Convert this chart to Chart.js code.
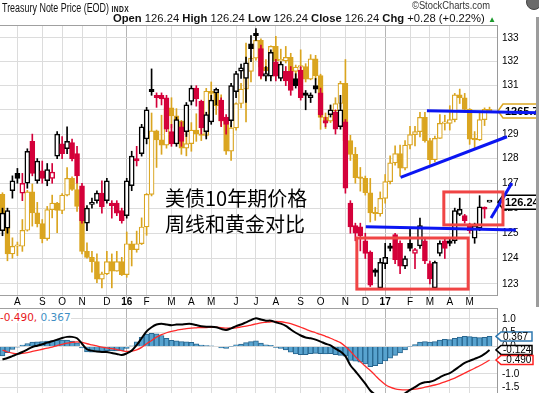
<!DOCTYPE html>
<html>
<head>
<meta charset="utf-8">
<title>Treasury Note Price vs Gold</title>
<script src="https://cdn.jsdelivr.net/npm/chart.js@4.4.1/dist/chart.umd.min.js"></script>
<style>
  html, body { margin: 0; padding: 0; background: #fff; }
  body { position: relative; width: 539px; height: 393px; overflow: hidden; font-family: Arial, "Liberation Sans", sans-serif; }
  canvas { position: absolute; left: 0; }
  #mainChart { top: 0; }
  #macdChart { top: 308px; }
  .txt { position: absolute; white-space: nowrap; transform-origin: 0 0; color: #111; }
  #title { left: 2px; top: 1px; font-size: 12px; line-height: 14px; }
  #title small { font-size: 9px; font-weight: bold; letter-spacing: 0.5px; }
  #credit { left: 412px; top: 0; font-size: 10px; line-height: 12px; color: #333; }
  #quote { left: 113px; top: 12px; font-size: 11px; line-height: 13px; }
  #quote .up { color: #1c9a2c; font-size: 8px; }
  #note { left: 165px; top: 185px; font-family: "Noto Sans CJK SC", sans-serif; font-size: 20px; line-height: 26px; color: #000; }
  #macdLegend { left: 0; top: 311px; font-family: "DejaVu Sans", sans-serif; font-size: 10.5px; line-height: 12px; background: #fff; }
  #macdLegend .sig { color: #e8181c; }
  #macdLegend .hist { color: #3f8fc4; }
  #rail { position: absolute; left: 536px; top: 17px; width: 3px; height: 290px; background: #9c9c9c; }
  #knob { position: absolute; left: 526px; top: -6px; width: 14px; height: 14px; border-radius: 50%; background: #6a6a6a; border: 1px solid #444; }
</style>
</head>
<body>
<canvas id="mainChart" width="539" height="308"></canvas>
<canvas id="macdChart" width="539" height="85"></canvas>
<div class="txt" id="title">Treasury Note Price (EOD) <small>INDX</small></div>
<div class="txt" id="credit">&copy;StockCharts.com</div>
<div class="txt" id="quote"><b>Open</b> 126.24 <b>High</b> 126.24 <b>Low</b> 126.24 <b>Close</b> 126.24 <b>Chg</b> +0.28 (+0.22%) <span class="up">&#9650;</span></div>
<div class="txt" id="note">美债10年期价格<br>周线和黄金对比</div>
<div class="txt" id="macdLegend"><span class="sig">-0.490,</span> <span class="hist">0.367</span></div>
<div id="rail"></div>
<div id="knob"></div>
<script>
// weekly slots, first week = mid July 2015
const weekCount = 100;
const monthTickIndex = [3, 8, 12, 16, 21, 25, 29, 34, 38, 42, 47, 51, 55, 60, 64, 69, 73, 77, 82, 86, 90, 94];
const monthTickText = ['A', 'S', 'O', 'N', 'D', '16', 'F', 'M', 'A', 'M', 'J', 'J', 'A', 'S', 'O', 'N', 'D', '17', 'F', 'M', 'A', 'M'];
const yearTicks = ['16', '17'];
const priceTicks = [123, 124, 125, 126, 127, 128, 129, 130, 131, 132, 133];
const macdTicks = [1, 0.5, 0, -0.5, -1, -1.5];

// 10-year treasury note, weekly candles
const tnOpen = [125.1,125.2,126.7,127.4,126.6,127.0,128.7,127.1,127.5,127.1, 127.2,128.1,128.6,128.4,128.65,128.2,126.9,125.4,126.15,126.3,
  126.6,126.3,126.2,126.2,125.9,125.7,126.9,128.0,128.2,128.8, 130.85,130.6,130.6,130.5,129.1,128.6,129.3,129.1,130.35,130.9,
  130.35,129.1,129.5,130.7,130.4,129.7,129.55,130.75,131.6,131.3, 132.75,133.2,132.55,131.4,131.4,132.0,131.3,131.6,131.6,131.3,
  131.65,130.7,130.5,131.0,130.7,129.55,129.8,129.9,129.3,129.5, 126.2,125.3,125.25,124.7,124.25,123.55,122.85,123.8,124.5,124.95,
  124.6,123.7,124.6,124.2,124.5,124.7,123.8,122.85,124.2,124.7, 124.7,124.7,125.75,125.7,125.3,124.8,125.2,126.0,126.24];
const tnHigh = [126.0,126.0,127.3,127.6,127.4,128.4,129.0,128.0,127.9,127.8, 127.8,129.1,128.9,129.3,128.8,128.5,127.0,126.1,126.4,126.7,
  127.1,127.2,126.3,126.3,126.0,127.2,128.3,128.5,129.4,130.1, 131.7,130.7,130.7,130.6,129.4,129.7,129.5,130.3,131.0,131.0,
  130.4,129.9,130.6,130.9,130.5,129.8,131.1,131.6,131.9,132.2, 133.1,133.4,132.7,131.8,132.5,132.1,132.0,131.8,131.8,131.5,
  131.8,130.8,130.7,131.3,130.9,129.7,130.2,130.0,130.6,129.6, 126.3,125.4,125.4,125.0,124.3,123.6,124.0,124.6,124.6,125.0,
  124.7,124.1,125.2,124.4,125.6,124.8,123.9,123.9,124.7,124.8, 124.8,126.0,126.4,125.75,125.4,125.4,126.5,126.05,126.24];
const tnLow = [124.9,125.0,126.4,127.0,126.3,126.8,127.3,127.0,127.0,126.9, 127.0,128.0,128.0,128.2,127.9,127.0,125.4,125.1,126.0,126.2,
  125.8,126.2,125.6,125.7,125.4,125.6,126.7,127.7,128.1,128.6, 130.6,130.1,130.2,129.1,128.5,128.5,128.5,128.9,130.2,130.15,
  129.0,128.8,129.4,130.2,129.3,129.0,129.3,130.5,131.3,130.3, 132.0,132.9,131.3,131.2,131.2,131.2,131.2,131.0,130.6,130.9,
  130.4,130.0,130.3,130.7,129.7,129.3,129.7,129.0,129.2,126.6, 125.0,124.7,124.3,124.0,122.9,123.3,122.8,123.6,124.3,123.8,
  123.4,123.6,124.3,123.6,124.4,123.8,123.0,122.8,124.1,124.0, 124.5,124.6,125.7,125.4,125.0,124.6,125.1,125.6,126.24];
const tnClose = [125.8,125.9,127.1,127.2,127.0,128.3,127.4,127.9,127.2,127.55, 127.45,129.0,128.2,128.7,128.0,127.3,125.5,126.0,126.22,126.6,
  126.05,127.1,126.1,125.8,125.5,127.1,128.1,127.9,129.3,130.0, 130.75,130.5,130.45,129.2,128.6,129.6,128.7,130.2,130.9,130.45,
  129.25,129.8,130.4,130.85,129.55,129.4,131.0,131.5,131.75,131.95, 132.55,133.1,131.4,131.5,132.4,131.4,131.9,131.2,130.8,131.0,
  130.5,130.6,130.62,130.85,129.8,129.45,130.0,129.2,130.0,126.8, 125.25,125.0,124.9,124.2,122.95,123.45,123.85,124.05,124.4,123.95,
  123.7,124.0,124.4,124.35,125.3,123.9,123.2,123.85,124.6,124.4, 124.6,125.9,125.95,125.5,125.1,125.3,126.05,125.96,126.24];

// gold overlay, weekly candles
const goldOpen = [1157,1131,1085,1094,1094,1113,1160,1134,1121,1103, 1138,1146,1137,1156,1177,1163,1142,1088,1081,1076,
  1056,1062,1076,1065,1076,1061,1097,1090,1097,1117, 1157,1239,1227,1220,1270,1259,1252,1216,1222,1240,
  1235,1233,1293,1290,1273,1252,1212,1243,1276,1296, 1321,1340,1366,1327,1322,1357,1336,1336,1341,1321,
  1327,1328,1310,1339,1315,1257,1252,1266,1276,1304, 1226,1208,1178,1177,1159,1134,1133,1152,1173,1197,
  1209,1190,1220,1234,1238,1257,1226,1201,1229,1249, 1249,1254,1288,1284,1268,1228,1227,1254,1268];
const goldHigh = [1159,1133,1104,1099,1126,1162,1170,1147,1126,1142, 1156,1147,1158,1191,1179,1180,1142,1098,1088,1085,
  1064,1088,1085,1088,1081,1111,1100,1112,1128,1158, 1263,1240,1260,1280,1284,1269,1253,1244,1250,1262,
  1271,1297,1306,1292,1288,1253,1246,1277,1304,1362, 1343,1377,1368,1338,1358,1372,1353,1357,1347,1330,
  1352,1332,1345,1344,1317,1263,1273,1284,1307,1338, 1233,1217,1191,1180,1177,1141,1160,1182,1206,1219,
  1220,1226,1245,1245,1264,1264,1229,1232,1261,1260, 1273,1290,1296,1290,1269,1238,1264,1270,1271];
const goldLow = [1131,1077,1080,1083,1088,1112,1118,1117,1098,1101, 1128,1110,1133,1155,1162,1136,1085,1080,1064,1052,
  1046,1061,1046,1065,1060,1058,1071,1087,1096,1107, 1155,1191,1208,1216,1243,1227,1208,1206,1212,1225,
  1226,1231,1270,1261,1246,1208,1200,1240,1270,1251, 1306,1337,1310,1310,1312,1333,1330,1333,1312,1302,
  1323,1306,1309,1309,1241,1242,1250,1261,1271,1222, 1200,1171,1161,1156,1123,1125,1130,1146,1170,1194,
  1180,1188,1215,1219,1231,1224,1195,1198,1229,1240, 1240,1251,1276,1264,1221,1215,1226,1246,1264];
const goldClose = [1131,1085,1094,1094,1113,1160,1134,1121,1103,1138, 1146,1137,1156,1177,1163,1142,1088,1081,1076,1056,
  1062,1076,1065,1076,1061,1097,1090,1097,1117,1157, 1239,1227,1220,1270,1259,1252,1216,1222,1240,1235,
  1233,1293,1290,1273,1252,1212,1243,1276,1296,1321, 1340,1366,1327,1322,1357,1336,1336,1341,1321,1327,
  1328,1310,1339,1315,1257,1252,1266,1276,1304,1226, 1208,1178,1177,1159,1134,1133,1152,1173,1197,1209,
  1190,1220,1234,1238,1257,1226,1201,1229,1249,1249, 1254,1288,1284,1268,1228,1227,1254,1268,1265.76];

// MACD(12,26,9) panel
const macdLine = [-0.47,-0.42,-0.35,-0.28,-0.2,-0.11,-0.02,0.03,0.08,0.14, 0.19,0.25,0.31,0.35,0.35,0.3,0.1,-0.1,-0.15,-0.18,
  -0.2,-0.2,-0.24,-0.27,-0.31,-0.25,-0.15,0.05,0.3,0.55, 0.7,0.8,0.83,0.8,0.77,0.8,0.8,0.82,0.82,0.78,
  0.74,0.72,0.72,0.7,0.64,0.6,0.66,0.74,0.8,0.88, 0.96,1.03,0.98,0.94,0.94,0.88,0.83,0.75,0.62,0.5,
  0.4,0.33,0.3,0.25,0.18,0.1,0.04,-0.08,-0.18,-0.35, -0.68,-0.9,-1.12,-1.35,-1.6,-1.75,-1.85,-1.9,-1.9,-1.86,
  -1.8,-1.7,-1.58,-1.48,-1.36,-1.3,-1.28,-1.22,-1.12,-1.03, -0.97,-0.85,-0.72,-0.6,-0.52,-0.45,-0.38,-0.27,-0.124];
const signalLine = [-0.13,-0.2,-0.24,-0.26,-0.25,-0.22,-0.18,-0.14,-0.1,-0.06, -0.02,0.03,0.08,0.12,0.15,0.17,0.15,0.1,0.06,0.02,
  -0.02,-0.05,-0.08,-0.11,-0.15,-0.18,-0.17,-0.12,-0.03,0.1, 0.22,0.34,0.43,0.5,0.55,0.59,0.62,0.65,0.67,0.68,
  0.69,0.69,0.7,0.7,0.69,0.67,0.67,0.68,0.71,0.74, 0.78,0.82,0.86,0.88,0.9,0.91,0.9,0.87,0.83,0.77,
  0.7,0.63,0.56,0.5,0.44,0.37,0.3,0.22,0.14,0.0, -0.17,-0.37,-0.55,-0.72,-0.87,-1.05,-1.23,-1.38,-1.48,-1.54,
  -1.57,-1.58,-1.57,-1.55,-1.52,-1.48,-1.44,-1.4,-1.35,-1.29, -1.22,-1.15,-1.06,-0.97,-0.88,-0.79,-0.7,-0.6,-0.49];
const macdHist = [-0.34,-0.22,-0.11,-0.02,0.05,0.11,0.16,0.17,0.18,0.2, 0.21,0.22,0.23,0.23,0.2,0.13,-0.05,-0.2,-0.21,-0.2,
  -0.18,-0.15,-0.16,-0.16,-0.16,-0.07,0.02,0.17,0.33,0.45, 0.48,0.46,0.4,0.3,0.22,0.21,0.18,0.17,0.15,0.1,
  0.05,0.03,0.02,0.0,-0.05,-0.07,-0.01,0.06,0.09,0.14, 0.18,0.21,0.12,0.06,0.04,-0.03,-0.07,-0.12,-0.21,-0.27,
  -0.3,-0.3,-0.26,-0.25,-0.26,-0.27,-0.26,-0.3,-0.32,-0.35, -0.51,-0.53,-0.57,-0.63,-0.73,-0.7,-0.62,-0.52,-0.42,-0.32,
  -0.23,-0.12,-0.01,0.07,0.16,0.18,0.16,0.18,0.23,0.26, 0.25,0.3,0.34,0.37,0.36,0.34,0.32,0.33,0.367];

// hand-drawn annotations, in [week, price] units
const trendLines = [
  [[85.4, 129.96], [108, 129.88]],
  [[80.1, 127.24], [101.5, 128.89]],
  [[73.1, 125.26], [103.3, 125.13]],
  [[98.3, 125.61], [102.5, 127.01]]
];
const focusBoxes = [
  [71.3, 93.7, 122.80, 124.81],
  [88.8, 100.7, 125.33, 126.65]
];

const weekLabels = Array.from({ length: weekCount }, () => '');
monthTickIndex.forEach((w, k) => { weekLabels[w] = monthTickText[k]; });

const GOLD = '#daa520';
const RED = '#d4003a';
const BLUE = '#0b16f2';

Chart.defaults.font.family = 'Arial, "Liberation Sans", sans-serif';

function weekGrid(ctx) {
  const lab = weekLabels[ctx.index];
  if (!lab) return 'rgba(0,0,0,0)';
  return yearTicks.includes(lab) ? '#b5b5b5' : '#dcdcdc';
}

function drawTag(ctx, tipX, y, text, edge, opts) {
  const h = opts.h / 2;
  ctx.beginPath();
  ctx.moveTo(tipX, y);
  ctx.lineTo(tipX + 5, y - h);
  ctx.lineTo(tipX + 5 + opts.w, y - h);
  ctx.lineTo(tipX + 5 + opts.w, y + h);
  ctx.lineTo(tipX + 5, y + h);
  ctx.closePath();
  ctx.fillStyle = '#fff';
  ctx.fill();
  ctx.lineWidth = 1.5;
  ctx.strokeStyle = edge;
  ctx.stroke();
  ctx.fillStyle = '#000';
  ctx.font = (opts.bold ? 'bold ' : '') + opts.size + 'px Arial, "Liberation Sans", sans-serif';
  ctx.textAlign = 'left';
  ctx.textBaseline = 'middle';
  ctx.fillText(text, tipX + 7, y + 0.5);
}

const tnColor = tnClose.map((c, i) => (i > 0 && c < tnClose[i - 1]) ? RED : '#000');
const tnFill = tnClose.map((c, i) => c >= tnOpen[i] ? '#fff' : tnColor[i]);
const goldFill = goldClose.map((c, i) => c >= goldOpen[i] ? '#fff' : GOLD);

const mainDeco = {
  id: 'mainDeco',
  beforeDatasetsDraw(chart) {
    const { ctx, chartArea: a, scales } = chart;
    const last = tnClose.length - 1;
    ctx.save();
    ctx.strokeStyle = '#a0a0a0';
    ctx.lineWidth = 1;
    ctx.beginPath();
    ctx.moveTo(a.left, a.top + 0.5); ctx.lineTo(a.right, a.top + 0.5);
    ctx.moveTo(a.left, a.bottom + 0.5); ctx.lineTo(a.right, a.bottom + 0.5);
    ctx.stroke();
    drawTag(ctx, a.right + 1, scales.yg.getPixelForValue(goldClose[last]), goldClose[last].toFixed(2), GOLD, { w: 45, h: 14, size: 11, bold: true });
    drawTag(ctx, a.right + 1, scales.y.getPixelForValue(tnClose[last]), tnClose[last].toFixed(2), '#000', { w: 36, h: 14, size: 11, bold: true });
    ctx.restore();
  },
  afterDatasetsDraw(chart) {
    const { ctx, scales } = chart;
    ctx.save();
    ctx.strokeStyle = '#f04545';
    ctx.lineWidth = 3;
    focusBoxes.forEach(b => {
      const x1 = scales.xl.getPixelForValue(b[0]);
      const x2 = scales.xl.getPixelForValue(b[1]);
      const y1 = scales.y.getPixelForValue(b[3]);
      const y2 = scales.y.getPixelForValue(b[2]);
      ctx.strokeRect(x1, y1, x2 - x1, y2 - y1);
    });
    ctx.restore();
  }
};

const lineSets = trendLines.map(seg => ({
  type: 'line',
  xAxisID: 'xl',
  yAxisID: 'y',
  data: seg.map(p => ({ x: p[0], y: p[1] })),
  borderColor: BLUE,
  borderWidth: 3,
  pointRadius: 0,
  clip: false,
  order: 0
}));

new Chart(document.getElementById('mainChart'), {
  data: {
    labels: weekLabels,
    datasets: [
      {
        type: 'bar', xAxisID: 'x', yAxisID: 'yg', order: 4, grouped: false,
        data: goldHigh.map((h, i) => [goldLow[i], h]),
        backgroundColor: GOLD, barThickness: 1
      },
      {
        type: 'bar', xAxisID: 'x', yAxisID: 'yg', order: 3, grouped: false,
        data: goldOpen.map((o, i) => [o, goldClose[i]]),
        backgroundColor: goldFill, borderColor: GOLD, borderWidth: 1.2,
        borderSkipped: false, barThickness: 5, minBarLength: 1.5
      },
      {
        type: 'bar', xAxisID: 'x', yAxisID: 'y', order: 2, grouped: false,
        data: tnHigh.map((h, i) => [tnLow[i], h]),
        backgroundColor: tnColor, barThickness: 1
      },
      {
        type: 'bar', xAxisID: 'x', yAxisID: 'y', order: 1, grouped: false,
        data: tnOpen.map((o, i) => [o, tnClose[i]]),
        backgroundColor: tnFill, borderColor: tnColor, borderWidth: 1.5,
        borderSkipped: false, barThickness: 5, minBarLength: 2
      },
      ...lineSets
    ]
  },
  options: {
    responsive: false,
    animation: false,
    events: [],
    layout: { padding: { top: 25, left: 0, right: 0, bottom: 0 } },
    plugins: { legend: { display: false }, tooltip: { enabled: false } },
    scales: {
      x: {
        type: 'category', offset: true,
        grid: { offset: false, color: weekGrid, tickLength: 3 },
        border: { display: false },
        ticks: {
          autoSkip: false, maxRotation: 0, minRotation: 0, padding: -2, color: '#000',
          font: c => ({ size: 10, weight: yearTicks.includes(c.tick && c.tick.label) ? 'bold' : 'normal' })
        },
        afterFit: s => { s.height = 13; s.paddingLeft = 0; s.paddingRight = 0; }
      },
      xl: { type: 'linear', display: false, min: -0.5, max: weekCount - 0.5 },
      y: {
        type: 'logarithmic', position: 'right', min: 122.57, max: 133.55, bounds: 'data',
        afterBuildTicks: s => { s.ticks = priceTicks.map(v => ({ value: v })); },
        afterFit: s => { s.width = 42; s.paddingTop = 0; s.paddingBottom = 0; },
        grid: { color: '#dcdcdc', drawTicks: false },
        border: { display: true, color: '#9a9a9a' },
        ticks: { autoSkip: false, padding: 5, color: '#000', font: { size: 10 }, callback: v => String(v) }
      },
      yg: { type: 'logarithmic', display: false, min: 1038, max: 1388.7, bounds: 'data' }
    }
  },
  plugins: [mainDeco]
});

const macdDeco = {
  id: 'macdDeco',
  beforeDatasetsDraw(chart) {
    const { ctx, chartArea: a } = chart;
    ctx.save();
    ctx.strokeStyle = '#a0a0a0';
    ctx.lineWidth = 1;
    ctx.beginPath();
    ctx.moveTo(a.left, a.top + 0.5); ctx.lineTo(a.right, a.top + 0.5);
    ctx.stroke();
    ctx.restore();
  },
  afterDraw(chart) {
    const { ctx, chartArea: a, scales } = chart;
    const last = macdLine.length - 1;
    ctx.save();
    drawTag(ctx, a.right - 1, scales.y.getPixelForValue(macdHist[last]), macdHist[last].toFixed(3), '#2f78b0', { w: 31, h: 9, size: 10 });
    drawTag(ctx, a.right - 1, scales.y.getPixelForValue(macdLine[last]), macdLine[last].toFixed(3), '#000', { w: 31, h: 9, size: 10 });
    drawTag(ctx, a.right - 1, scales.y.getPixelForValue(signalLine[last]), signalLine[last].toFixed(3), '#ff2020', { w: 32, h: 9, size: 10 });
    ctx.restore();
  }
};

new Chart(document.getElementById('macdChart'), {
  data: {
    labels: weekLabels,
    datasets: [
      {
        type: 'bar', data: macdHist, order: 3,
        backgroundColor: '#58a3cf', borderColor: '#28668f', borderWidth: 1,
        barPercentage: 1, categoryPercentage: 1
      },
      {
        type: 'line', data: signalLine, order: 2,
        borderColor: '#ff2a2a', borderWidth: 1.3, pointRadius: 0, tension: 0.3
      },
      {
        type: 'line', data: macdLine, order: 1,
        borderColor: '#000', borderWidth: 2, pointRadius: 0, tension: 0.3
      }
    ]
  },
  options: {
    responsive: false,
    animation: false,
    events: [],
    layout: { padding: 0 },
    plugins: { legend: { display: false }, tooltip: { enabled: false } },
    scales: {
      x: {
        type: 'category', offset: true,
        grid: { offset: false, color: weekGrid, drawTicks: false },
        border: { display: false },
        ticks: { display: false },
        afterFit: s => { s.height = 0; s.paddingLeft = 0; s.paddingRight = 0; }
      },
      y: {
        position: 'right', min: -1.691, max: 1.4,
        afterBuildTicks: s => { s.ticks = macdTicks.map(v => ({ value: v })); },
        afterFit: s => { s.width = 42; s.paddingTop = 0; s.paddingBottom = 0; },
        grid: { color: '#dcdcdc', drawTicks: false },
        border: { display: true, color: '#9a9a9a' },
        ticks: { autoSkip: false, padding: 5, color: '#000', font: { size: 10 }, callback: v => Number(v).toFixed(1) }
      }
    }
  },
  plugins: [macdDeco]
});

// squeeze header texts to the widths used in the original
function fitWidth(id, w) {
  const el = document.getElementById(id);
  el.style.transform = 'scaleX(' + (w / el.getBoundingClientRect().width) + ')';
}
fitWidth('title', 127);
fitWidth('quote', 383);
fitWidth('credit', 78);
</script>
</body>
</html>
